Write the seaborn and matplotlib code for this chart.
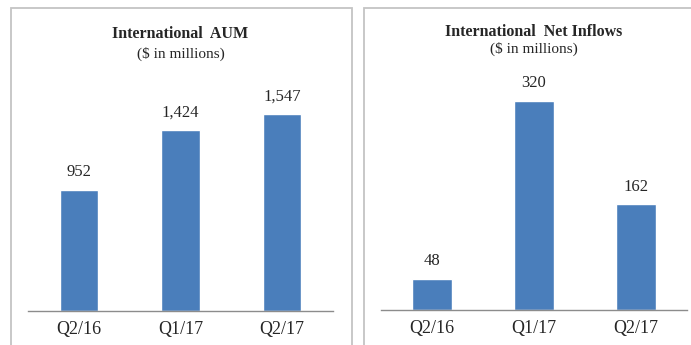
import matplotlib
matplotlib.use("Agg")
import matplotlib.pyplot as plt
import seaborn as sns
import pandas as pd
from matplotlib.patches import Rectangle

categories = ["Q2/16", "Q1/17", "Q2/17"]
aum_values = [952, 1424, 1547]
inflow_values = [48, 320, 162]
aum_labels = ["952", "1,424", "1,547"]
inflow_labels = ["48", "320", "162"]

sns.set_theme(style="white")
plt.rcParams['font.family'] = ['Liberation Serif', 'DejaVu Serif']

BAR = "#4A7EBB"
fig = plt.figure(figsize=(6.91, 3.45), dpi=100)

# panel borders
fig.patches.append(Rectangle((10.5/691, -0.1), (351.5-10.5)/691, 1.1 - 8/345,
                             transform=fig.transFigure, fill=False,
                             edgecolor="#c4c4c4", linewidth=1.3))
fig.patches.append(Rectangle((364.5/691, -0.1), 0.5, 1.1 - 8/345,
                             transform=fig.transFigure, fill=False,
                             edgecolor="#c4c4c4", linewidth=1.3))

def panel(rect, vals, labels, ymax, title, sub_y, title_y, width):
    ax = fig.add_axes(rect)
    df = pd.DataFrame({"cat": categories, "val": vals})
    sns.barplot(data=df, x="cat", y="val", color=BAR, width=width,
                saturation=1, ax=ax)
    ax.set_ylim(0, ymax)
    ax.set_xlim(-0.5, 2.5)
    ax.set_xlabel("")
    ax.set_ylabel("")
    ax.set_yticks([])
    for s in ["top", "right", "left"]:
        ax.spines[s].set_visible(False)
    ax.spines["bottom"].set_color("#8c8c8c")
    ax.spines["bottom"].set_linewidth(1.0)
    ax.set_xticks(range(3))
    ax.set_xticklabels(categories, fontsize=13)
    ax.tick_params(axis="x", which="major", length=0, pad=7)
    ax.set_xticks([-0.5, 0.5, 1.5, 2.5], minor=True)
    ax.tick_params(axis="x", which="minor", length=5, width=1.0,
                   color="#8c8c8c", direction="inout")
    for i, (v, lab) in enumerate(zip(vals, labels)):
        ax.annotate(lab, (i, v), xytext=(0, 7), textcoords="offset points",
                    ha="center", va="bottom", fontsize=12)
    cx = rect[0] + rect[2] / 2
    fig.text(cx, 1 - title_y/345, title, ha="center", va="center",
             fontsize=11.5, fontweight="bold")
    fig.text(cx, 1 - sub_y/345, "($ in millions)", ha="center", va="center",
             fontsize=11)
    return ax

panel([28/691, 34/345, 305/691, 251/345], aum_values, aum_labels, 1975,
      "International  AUM", 54, 34, 0.38)
panel([381/691, 35/345, 306/691, 250/345], inflow_values, inflow_labels, 383,
      "International  Net Inflows", 49, 32, 0.39)

fig.savefig("out.png", dpi=100)
